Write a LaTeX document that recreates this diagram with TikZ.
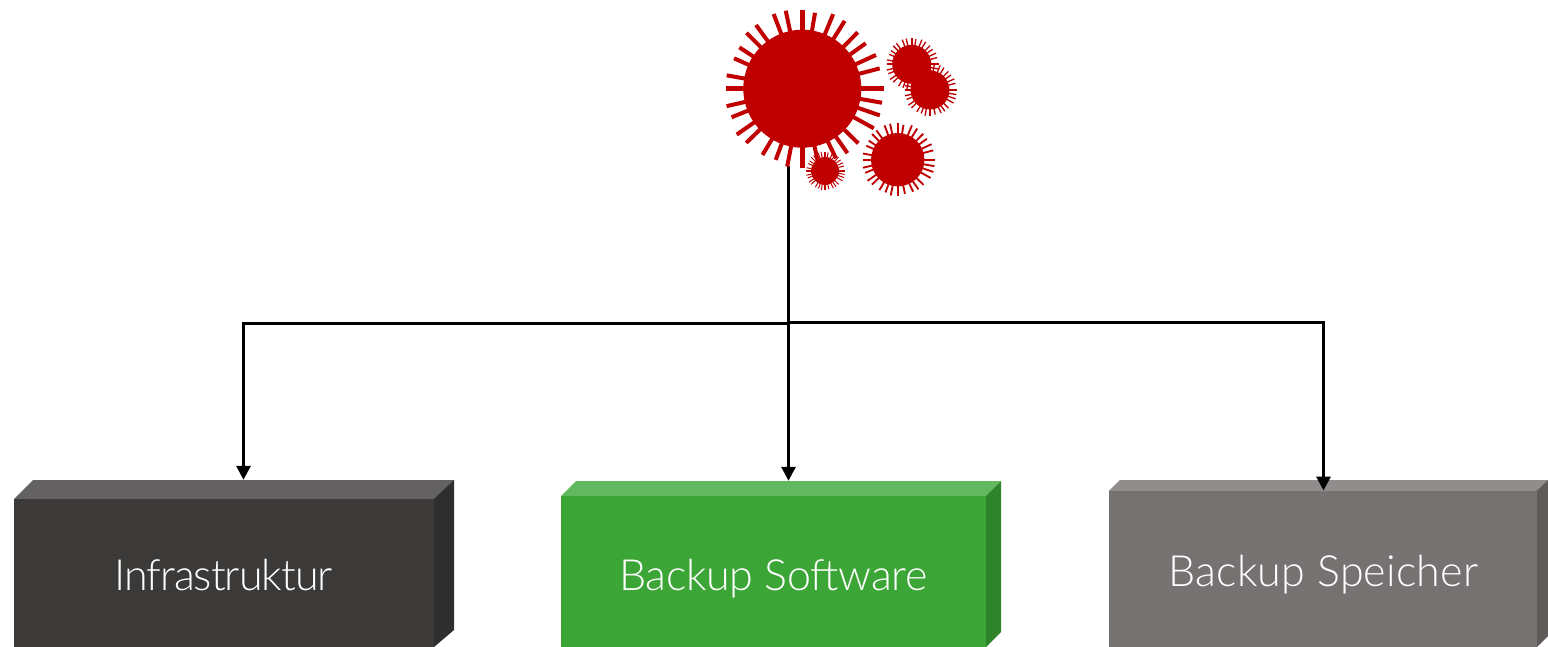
\documentclass[tikz,border=0pt]{standalone}
\usepackage{fontspec}
\setmainfont{Lato Light}
\newfontfamily\infrafont[LetterSpace=-2.3]{Lato Light}
\newfontfamily\softfont[LetterSpace=-0.6]{Lato Light}
\newfontfamily\specfont[LetterSpace=0.5]{Lato Light}
\usetikzlibrary{calc,arrows.meta}
\definecolor{virusred}{HTML}{C00000}
\definecolor{darkfront}{HTML}{3B3A39}
\definecolor{darktop}{HTML}{636161}
\definecolor{darkside}{HTML}{2F2E2E}
\definecolor{greenfront}{HTML}{3BA535}
\definecolor{greentop}{HTML}{62B85F}
\definecolor{greenside}{HTML}{2F842B}
\definecolor{greyfront}{HTML}{767271}
\definecolor{greytop}{HTML}{918D8C}
\definecolor{greyside}{HTML}{5E5B5A}
\tikzset{
  body/.style={circle,fill=virusred,draw=none,inner sep=0pt},
  front/.style={rectangle,draw=none,inner sep=0pt},
  outer/.style={rectangle,draw=none,inner sep=0pt},
  boxlabel/.style={anchor=base,text=white,inner sep=0pt},
  conn/.style={draw=black,line width=3pt},
  connarrow/.style={conn,-{Triangle[length=14pt,width=14pt]}},
  spike/.style={draw=virusred,line cap=butt},
}
\newcommand{\spikes}[2]{%
  \foreach \a/\r in {0/81.7,14.7/80,24.6/81,35.6/78,45.5/79,58/80,67.5/80.7,80.5/77,90/78.7,102/79.7,111/80,126/78.7,135/79,146.7/75.3,156/74.7,170/76.7,180/76.3,193/77.7,202/76.3,215/80,224/78,239/77.3,249.5/76,259/79.3,270/79,282/76,295.8/77.3,305/78.7,315.7/78.3,331/81.7,341/82,350/81}{%
    \pgfmathsetmacro{\ri}{57*#2}%
    \pgfmathsetmacro{\ro}{\r*#2}%
    \pgfmathsetmacro{\lw}{(abs(mod(\a,90))<0.1?5:4)*#2}%
    \draw[spike,line width=\lw pt] ($(#1.center)+(\a:\ri pt)$) -- ($(#1.center)+(\a:\ro pt)$);
  }}
\begin{document}
\begin{tikzpicture}[x=1pt,y=-1pt]
\useasboundingbox (0,0) rectangle (1548,647);
% virus bodies
\node[body,minimum size=118pt] (v1) at (802.3,88.7) {};
\node[body,minimum size=53.4pt] (v2) at (897.7,159.7) {};
\node[body,minimum size=28pt] (v3) at (825,171) {};
\node[body,minimum size=39pt] (v5) at (930,90) {};
\node[body,minimum size=39pt] (v4) at (911.7,64.3) {};
% box 1
\fill[darktop] (14,500) -- (14,499) -- (33,480) -- (454,480) -- (434,500) -- cycle;
\fill[darkside] (433,499) -- (434,499) -- (454,480) -- (454,630) -- (434,647) -- (433,647) -- cycle;
\node[front,fill=darkfront,minimum width=420pt,minimum height=148pt] (infraf) at (224,573) {};
\node[outer,minimum width=440pt,minimum height=167pt] (infra) at (234,563.5) {};
\node[boxlabel,font=\infrafont\fontsize{43}{50}\selectfont] (infral) at (223.5,590) {Infrastruktur};
% box 2
\fill[greentop] (561,497) -- (561,496) -- (576,481) -- (1001,481) -- (986,497) -- cycle;
\fill[greenside] (985,496) -- (986,496) -- (1001,481) -- (1001,632) -- (986,647) -- (985,647) -- cycle;
\node[front,fill=greenfront,minimum width=425pt,minimum height=151pt] (softf) at (773.5,571.5) {};
\node[outer,minimum width=440pt,minimum height=166pt] (soft) at (781,564) {};
\node[boxlabel,font=\softfont\fontsize{43}{50}\selectfont] (softl) at (773.5,590) {Backup Software};
% box 3
\fill[greytop] (1109,492) -- (1109,490.7) -- (1120,480) -- (1548,480) -- (1537,492) -- cycle;
\fill[greyside] (1536,490.7) -- (1537,490.7) -- (1548,480) -- (1548,636) -- (1537,647) -- (1536,647) -- cycle;
\node[front,fill=greyfront,minimum width=428pt,minimum height=156.3pt] (specf) at (1323,568.85) {};
\node[boxlabel,font=\specfont\fontsize{43}{50}\selectfont] (specl) at (1323.5,586) {Backup Speicher};
% connectors
\coordinate (jl) at (788.5,323.5);
\coordinate (jr) at (788.5,322);
\draw[connarrow,shorten <=18pt] (v1.south -| jl) -- (jl) -- (243.5,323.5) -- (infra.north -| 243.5,0);
\draw[connarrow,shorten <=18pt] (v1.south -| jl) -- (soft.north -| jl);
\draw[connarrow] (jr) -- (1323.5,322) -- (specf.north -| 1323.5,0);
% spikes
\spikes{v1}{1}
\spikes{v2}{0.46}
\spikes{v3}{0.245}
\spikes{v5}{0.33}
\spikes{v4}{0.33}
\end{tikzpicture}
\end{document}
